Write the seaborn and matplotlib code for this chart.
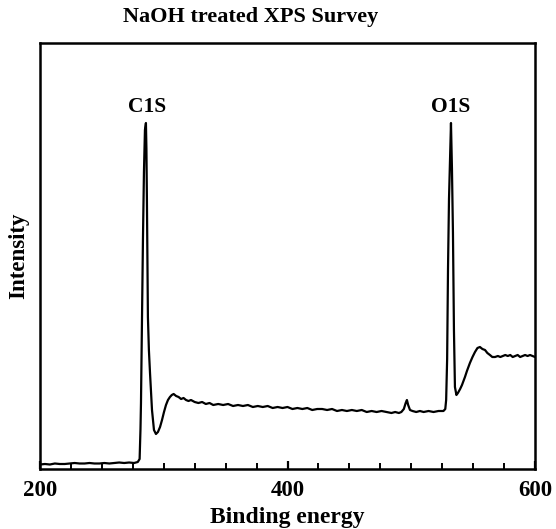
import matplotlib
matplotlib.use("Agg")
import matplotlib.pyplot as plt
import seaborn as sns
import pandas as pd
from matplotlib.ticker import MultipleLocator

# ---- data ----
binding_energy = [
    200, 204, 208, 212, 216, 220, 224, 228, 232, 236, 240, 244, 248, 252, 256, 260, 264, 268, 272, 276, 279, 280.5,
    281.2, 281.6, 282.4, 283.2, 284.0, 284.8, 285.6, 286.0, 286.4, 287.2, 288.0, 288.9, 290.5, 292.1, 293.7, 295.3,
    297, 298.6, 300.2, 301.8, 303.4, 305, 306.5, 308, 310, 312, 314, 316, 318, 320, 322, 325, 328, 331, 334, 337,
    340, 344, 348, 352, 356, 360, 364, 368, 372, 376, 380, 384, 388, 392, 396, 400, 404, 408, 412, 416, 420, 424,
    428, 432, 436, 440, 444, 448, 452, 456, 460, 464, 468, 472, 476, 480, 484, 487, 490, 492, 494, 495.5, 496.5,
    497.5, 499, 501, 504, 507, 510, 514, 518, 522, 526, 527.5, 528.2, 529, 529.7, 530.5, 531.3, 532.1, 532.9,
    533.7, 534.5, 535.3, 536.5, 537.7, 539.5, 541, 543.4, 545, 547.4, 549.5, 551.5, 553.5, 555.5, 557.5, 559.6,
    561.5, 563.6, 565.5, 567.7, 570, 572, 574, 576, 578, 580, 582, 584, 586, 588, 590, 592, 594, 596, 598, 600,
]
intensity = [
    4.5, 5, 4.5, 5.5, 5, 5, 5.5, 6, 5.5, 5.5, 6, 5.5, 5.5, 6, 5.5, 6, 6.5, 6, 6.5, 6, 7, 10,
    40, 66, 152, 230, 297, 339, 346, 320, 269, 152, 119, 96, 59, 39, 35, 37,
    42, 49, 57, 64, 69, 72, 74, 75, 73, 72, 70, 71, 69, 68, 69, 67, 66, 67, 65, 66,
    64, 65, 64, 65, 63, 64, 63, 64, 62, 63, 62, 63, 61, 62, 61, 62, 60, 61, 60, 61, 59, 60,
    60, 59, 60, 58, 59, 58, 59, 58, 59, 57, 58, 57, 58, 57, 56, 57, 56, 57, 60, 66, 69,
    64, 59, 58, 57, 58, 57, 58, 57, 58, 58, 60, 69, 110, 200, 270, 307, 346, 300,
    236, 139, 82, 74, 76, 80, 84, 92, 98, 106, 112, 117, 121, 122, 120, 119,
    116, 114, 112, 112, 113, 112, 113, 114, 113, 114, 112, 113, 114, 112, 113, 114, 113, 114, 113, 112,
]
peak_labels = ["C1S", "O1S"]
peak_positions = [286.3, 532.1]
x_ticks = [200, 400, 600]

df = pd.DataFrame({"Binding energy": binding_energy, "Intensity": intensity})

sns.set_theme(style="white")
plt.rcParams["font.family"] = ["Liberation Serif", "DejaVu Serif"]
plt.rcParams["font.weight"] = "bold"
plt.rcParams["text.color"] = "black"
plt.rcParams["axes.labelcolor"] = "black"
plt.rcParams["xtick.color"] = "black"

fig = plt.figure(figsize=(5.56, 5.29), dpi=100)
ax = fig.add_axes([40 / 556, 1 - 469 / 529, 495 / 556, 426 / 529])

sns.lineplot(data=df, x="Binding energy", y="Intensity", ax=ax,
             color="black", linewidth=1.6, sort=False)

ax.set_xlim(200, 600)
ax.set_ylim(0, 426)
ax.set_xticks(x_ticks)
ax.set_xticklabels([str(t) for t in x_ticks], fontsize=16.5, fontweight="bold", color="black")
ax.xaxis.set_minor_locator(MultipleLocator(25))
ax.set_yticks([])
ax.tick_params(axis="x", which="major", direction="in", length=6, width=1.6,
               bottom=True, top=False, pad=8, colors="black")
ax.tick_params(axis="x", which="minor", direction="in", length=4, width=1.4,
               bottom=True, top=False, colors="black")
for sp in ax.spines.values():
    sp.set_visible(True)
    sp.set_color("black")
    sp.set_linewidth(1.8)

ax.set_xlabel("Binding energy", fontsize=17, fontweight="bold", labelpad=4, color="black")
ax.set_ylabel("Intensity", fontsize=16.5, fontweight="bold", labelpad=8, color="black")

for lab, pos in zip(peak_labels, peak_positions):
    ax.text(pos, 352, lab, ha="center", va="bottom", fontsize=15.5, fontweight="bold", color="black")

fig.text(251 / 556, 1 - 17 / 529, "NaOH treated XPS Survey", ha="center", va="center",
         fontsize=16, fontweight="bold", color="black")

fig.savefig("out.png", dpi=100)
